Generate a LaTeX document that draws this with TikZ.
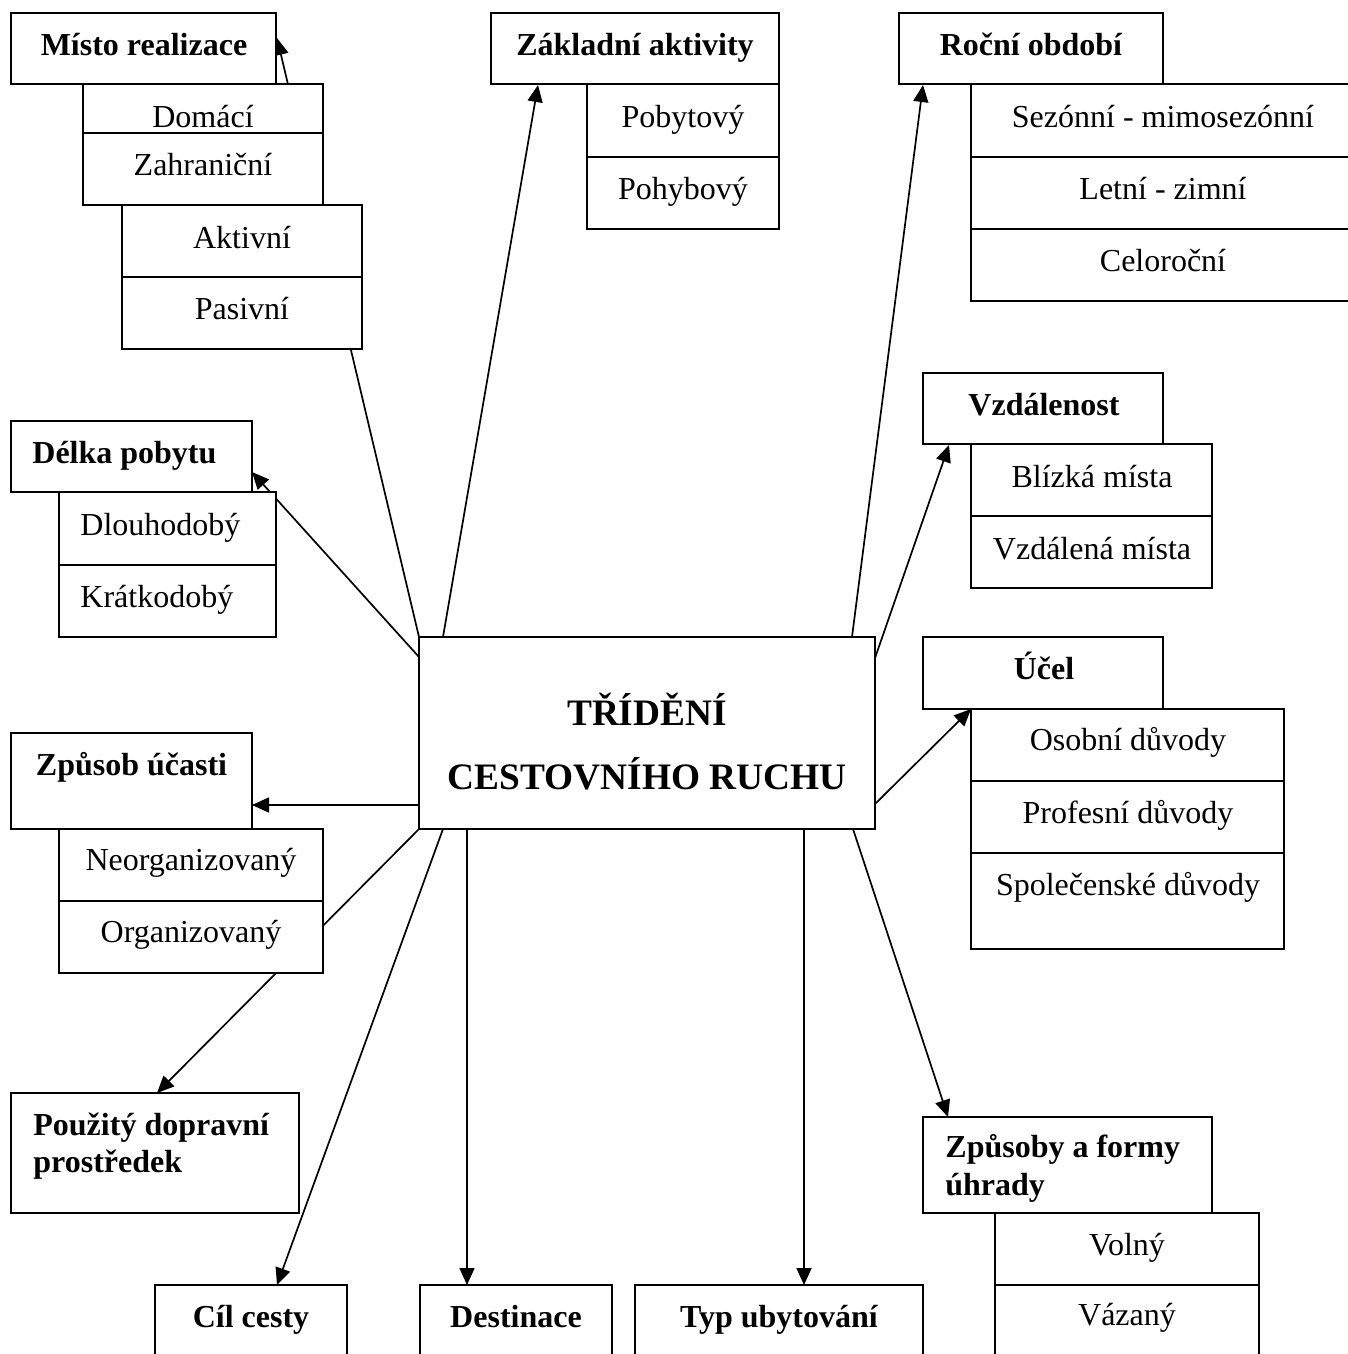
\documentclass[tikz,border=0pt]{standalone}
\usepackage{fontspec}
\setmainfont{Liberation Serif}
\usetikzlibrary{arrows.meta,calc,fit}
\pgfdeclarelayer{back}
\pgfdeclarelayer{bg}
\pgfsetlayers{back,bg,main}
\begin{document}
\begin{tikzpicture}[x=0.5pt,y=-0.5pt,
  box/.style={draw, line width=1pt, fill=white, inner sep=0pt, outer sep=0pt},
  arr/.style={line width=0.85pt, -{Triangle[length=8.5pt,width=7.5pt]}},
  txt/.style={inner sep=0pt, anchor=base, yshift=-1.25pt, font=\fontsize{16}{19}\selectfont},
  hd/.style={inner sep=0pt, anchor=base, yshift=-1.25pt, font=\fontsize{16}{19}\selectfont\bfseries},
  hdl/.style={inner sep=0pt, anchor=base west, yshift=-1.25pt, font=\fontsize{16}{19}\selectfont\bfseries},
  txtl/.style={inner sep=0pt, anchor=base west, yshift=-1.25pt, font=\fontsize{16}{19}\selectfont},
  big/.style={inner sep=0pt, anchor=base, font=\fontsize{18.67}{22}\selectfont\bfseries}]
\useasboundingbox (0,0) rectangle (1348,1354);
\begin{pgfonlayer}{back}
\fill[white] (0,0) rectangle (1348,1354);
\end{pgfonlayer}

% central box
\node[box, fit={(419,637) (875,829)}] (c) {};
% Misto realizace
\node[box, fit={(11,13) (276,84)}] (mr) {};
\node[box, fit={(83,84) (323,133)}] (mr1) {};
\node[box, fit={(83,133) (323,205)}] (mr2) {};
\node[box, fit={(122,205) (362,277)}] (mr3) {};
\node[box, fit={(122,277) (362,349)}] (mr4) {};
% Zakladni aktivity
\node[box, fit={(491,13) (779,84)}] (za) {};
\node[box, fit={(587,84) (779,157)}] (za1) {};
\node[box, fit={(587,157) (779,229)}] (za2) {};
% Rocni obdobi
\node[box, fit={(899,13) (1163,84)}] (ro) {};
\node[box, fit={(971,84) (1356,157)}] (ro1) {};
\node[box, fit={(971,157) (1356,229)}] (ro2) {};
\node[box, fit={(971,229) (1356,301)}] (ro3) {};
% Vzdalenost
\node[box, fit={(923,373) (1163,444)}] (vz) {};
\node[box, fit={(971,444) (1212,516)}] (vz1) {};
\node[box, fit={(971,516) (1212,588)}] (vz2) {};
% Ucel
\node[box, fit={(923,637) (1163,709)}] (uc) {};
\node[box, fit={(971,709) (1284,781)}] (uc1) {};
\node[box, fit={(971,781) (1284,853)}] (uc2) {};
\node[box, fit={(971,853) (1284,949)}] (uc3) {};
% Delka pobytu
\node[box, fit={(11,421) (252,492)}] (dp) {};
\node[box, fit={(59,492) (276,565)}] (dp1) {};
\node[box, fit={(59,565) (276,637)}] (dp2) {};
% Zpusob ucasti
\node[box, fit={(11,733) (252,829)}] (zu) {};
\node[box, fit={(59,829) (323,901)}] (zu1) {};
\node[box, fit={(59,901) (323,973)}] (zu2) {};
% Pouzity dopravni prostredek
\node[box, fit={(11,1093) (299,1213)}] (pd) {};
% bottom row
\node[box, fit={(155,1285) (347,1380)}] (cc) {};
\node[box, fit={(420,1285) (612,1380)}] (de) {};
\node[box, fit={(635,1285) (923,1380)}] (ty) {};
% Zpusoby a formy uhrady
\node[box, fit={(923,1117) (1212,1213)}] (zf) {};
\node[box, fit={(995,1213) (1259,1285)}] (zf1) {};
\node[box, fit={(995,1285) (1259,1380)}] (zf2) {};

% texts
\node[big] (tc1) at (647,725) {TŘÍDĚNÍ};
\node[big] (tc2) at (647,789) {CESTOVNÍHO RUCHU};

\node[hd] (tmr) at (144,53) {Místo realizace};
\node[txt] (tmr1) at (203,125) {Domácí};
\node[txt] (tmr2) at (203,173) {Zahraniční};
\node[txt] (tmr3) at (242,246) {Aktivní};
\node[txt] (tmr4) at (242,317) {Pasivní};

\node[hd] (tza) at (635,53) {Základní aktivity};
\node[txt] (tza1) at (683,125) {Pobytový};
\node[txt] (tza2) at (683,197) {Pohybový};

\node[hd] (tro) at (1031,53) {Roční období};
\node[txt] (tro1) at (1163,125) {Sezónní - mimosezónní};
\node[txt] (tro2) at (1163,197) {Letní - zimní};
\node[txt] (tro3) at (1163,269) {Celoroční};

\node[hd] (tvz) at (1044,413) {Vzdálenost};
\node[txt] (tvz1) at (1092,485) {Blízká místa};
\node[txt] (tvz2) at (1092,557) {Vzdálená místa};

\node[hd] (tuc) at (1044,677) {Účel};
\node[txt] (tuc1) at (1128,748) {Osobní důvody};
\node[txt] (tuc2) at (1128,821) {Profesní důvody};
\node[txt] (tuc3) at (1128,893) {Společenské důvody};

\node[hdl] (tdp) at (32,461) {Délka pobytu};
\node[txtl] (tdp1) at (80,533) {Dlouhodobý};
\node[txtl] (tdp2) at (80,605) {Krátkodobý};

\node[hd] (tzu) at (131.5,773) {Způsob účasti};
\node[txt] (tzu1) at (191,868) {Neorganizovaný};
\node[txt] (tzu2) at (191,940) {Organizovaný};

\node[hdl] (tpd1) at (33,1133) {Použitý dopravní};
\node[hdl] (tpd2) at (33,1170) {prostředek};

\node[hd] (tcc) at (251,1325) {Cíl cesty};
\node[hd] (tde) at (516,1325) {Destinace};
\node[hd] (tty) at (779,1325) {Typ ubytování};

\node[hdl] (tzf1) at (945,1155) {Způsoby a formy};
\node[hdl] (tzf2) at (945,1193) {úhrady};
\node[txt] (tzf3) at (1127,1253) {Volný};
\node[txt] (tzf4) at (1127,1323) {Vázaný};

% connectors
\begin{pgfonlayer}{bg}
\draw[arr] (c.north west) -- ($(mr.north east)+(1,25)$);
\draw[arr] ($(c.north west)+(24,0)$) -- ($(za.south west)+(47,1)$);
\draw[arr] ($(c.north east)+(-23,0)$) -- ($(ro.south west)+(24,1)$);
\draw[arr] ($(c.north east)+(0,21)$) -- ($(vz.south west)+(26,1)$);
\draw[arr] ($(c.south east)+(0,-25)$) -- (uc1.north west);
\draw[arr] ($(c.south east)+(-22,0)$) -- ($(zf.north west)+(25,0)$);
\draw[arr] ($(c.south east)+(-71,0)$) coordinate (s7) -- (s7 |- ty.north);
\draw[arr] ($(c.south west)+(48,0)$) coordinate (s8) -- (s8 |- de.north);
\draw[arr] ($(c.south west)+(24,0)$) -- ($(cc.north west)+(122,0)$);
\draw[arr] (c.south west) -- ($(pd.north west)+(146,0)$);
\draw[arr] ($(c.south west)+(0,-24)$) coordinate (s11) -- (s11 -| zu.east);
\draw[arr] ($(c.north west)+(0,20)$) -- ($(dp.south east)+(0,-20)$);
\end{pgfonlayer}
\end{tikzpicture}
\end{document}
